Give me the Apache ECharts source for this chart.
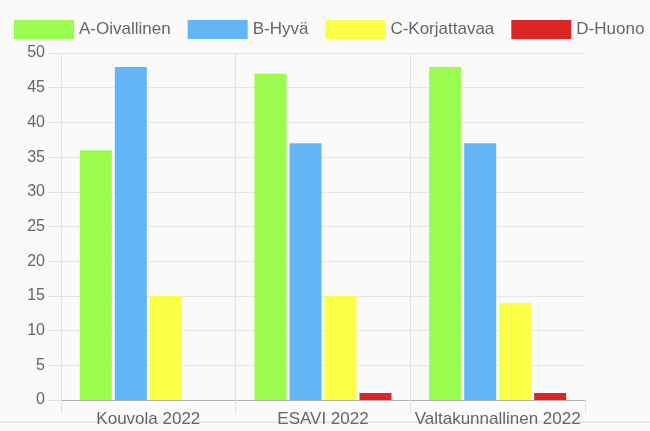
<!DOCTYPE html>
<html>
<head>
<meta charset="utf-8">
<script src="https://cdn.jsdelivr.net/npm/echarts@6/dist/echarts.min.js"></script>
<style>
  html, body { margin: 0; padding: 0; background: #fafafa; }
  #chart { width: 650px; height: 431px; }
</style>
</head>
<body>
<div id="chart"></div>
<script>
  // kategoriat ja sarjat
  let categories = ['Kouvola 2022', 'ESAVI 2022', 'Valtakunnallinen 2022'];
  let seriesNames = ['A-Oivallinen', 'B-Hyvä', 'C-Korjattavaa', 'D-Huono'];
  let oivallinen = [36, 47, 48];
  let hyva = [48, 37, 37];
  let korjattavaa = [15, 15, 14];
  let huono = [0, 1, 1];
  let colors = ['#9bfc50', '#64b5f6', '#fbff46', '#dc2626'];

  let myChart = echarts.init(document.getElementById('chart'));

  let values = [oivallinen, hyva, korjattavaa, huono];

  let option = {
    backgroundColor: '#fafafa',
    animation: false,
    textStyle: { fontFamily: 'Liberation Sans, Arial, sans-serif' },
    legend: {
      top: 20,
      left: 14,
      padding: 0,
      itemWidth: 60,
      itemHeight: 19,
      itemGap: 17,
      icon: 'rect',
      textStyle: { color: '#666', fontSize: 17 },
      data: seriesNames
    },
    grid: {
      left: 61,
      right: 65,
      top: 53,
      bottom: 31,
      containLabel: false
    },
    xAxis: {
      type: 'category',
      data: categories,
      axisLine: { lineStyle: { color: '#b0b0b0', width: 1 } },
      axisTick: {
        show: true,
        interval: 0,
        length: 13,
        lineStyle: { color: '#e2e2e2' }
      },
      splitLine: {
        show: true,
        interval: 0,
        // viimeinen reunaviiva piiloon
        lineStyle: { color: ['#e2e2e2', '#e2e2e2', '#e2e2e2', 'rgba(0,0,0,0)'] }
      },
      axisLabel: { interval: 0, color: '#666', fontSize: 17, margin: 11 }
    },
    yAxis: {
      type: 'value',
      min: 0,
      max: 50,
      interval: 5,
      axisLine: { show: false },
      axisTick: {
        show: true,
        length: 13,
        lineStyle: { color: '#e2e2e2' }
      },
      splitLine: { lineStyle: { color: '#e6e6e6' } },
      axisLabel: { color: '#666', fontSize: 16, margin: 16 }
    },
    graphic: [{
      type: 'line',
      shape: { x1: 0, y1: 422, x2: 650, y2: 422 },
      style: { stroke: '#e8e8e8', lineWidth: 2 },
      silent: true,
      z: -1
    }],
    series: seriesNames.map(function(name, i) {
      return {
        name: name,
        type: 'bar',
        barWidth: 32,
        barGap: '9.4%',
        itemStyle: {
          color: colors[i],
          borderWidth: 0
        },
        data: values[i]
      };
    })
  };

  myChart.setOption(option);
</script>
</body>
</html>
